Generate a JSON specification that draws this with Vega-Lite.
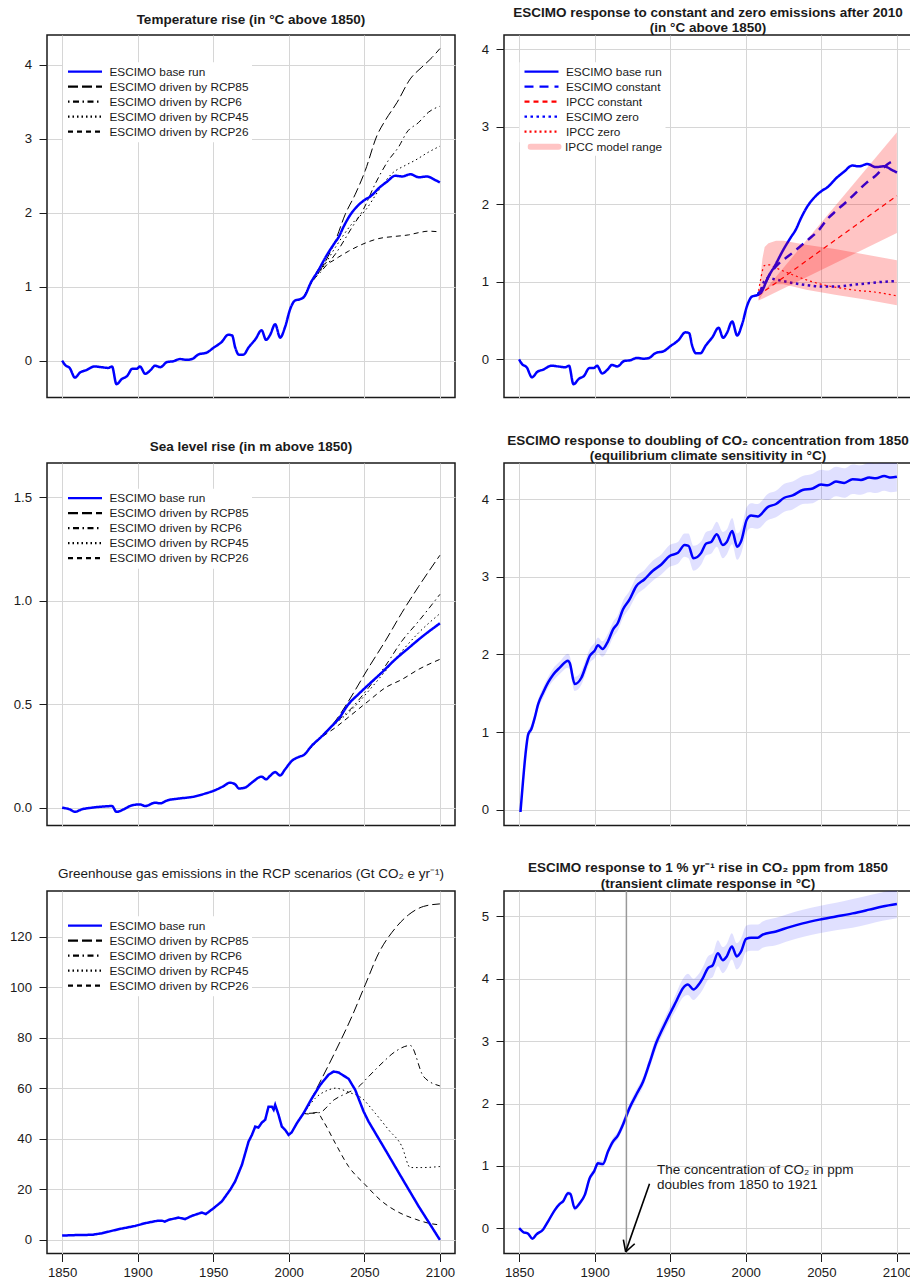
{
"$schema": "https://vega.github.io/schema/vega-lite/v6.json",
"padding": {"left": 8, "top": 5, "right": 0, "bottom": 0},
"background": "white",
"columns": 2,
"spacing": {"row": 65, "column": 49},
"bounds": "flush",
"config": {
  "font": "Liberation Sans",
  "view": {"stroke": "#1a1a1a", "strokeWidth": 1.5},
  "axis": {"domain": false, "grid": true, "gridColor": "#D6D6D6", "gridWidth": 1, "tickColor": "#1a1a1a", "tickSize": 8, "tickWidth": 1, "labelFont": "Liberation Sans", "labelFontSize": 13.2, "labelColor": "#1a1a1a", "labelFlush": false, "labelOverlap": false},
  "axisX": {"labelPadding": 5},
  "axisY": {"labelPadding": 7.5},
  "title": {"font": "Liberation Sans", "fontSize": 13.5, "fontWeight": "bold", "color": "#1a1a1a", "anchor": "middle", "baseline": "bottom", "lineHeight": 15.6},
  "legend": {"orient": "none", "legendX": 16, "legendY": 27.2, "symbolType": "stroke", "symbolSize": 1156, "symbolStrokeWidth": 2.2, "symbolOpacity": 1, "labelFont": "Liberation Sans", "labelFontSize": 11.8, "labelColor": "#1a1a1a", "labelOffset": 6, "labelLimit": 300, "fillColor": "white", "padding": 3.5, "rowPadding": 2, "clipHeight": 12}
},
"resolve": {"scale": {"x": "independent", "y": "independent", "color": "independent", "strokeDash": "independent", "fill": "independent"}, "axis": {"x": "independent", "y": "independent"}, "legend": {"color": "independent", "strokeDash": "independent", "fill": "independent"}},
"datasets": {
"tbase": [
{"s":"ESCIMO base run","year":1850,"v":0},{"s":"ESCIMO base run","year":1852,"v":-0.06},{"s":"ESCIMO base run","year":1855,"v":-0.1},{"s":"ESCIMO base run","year":1858.5,"v":-0.23},{"s":"ESCIMO base run","year":1862,"v":-0.16},{"s":"ESCIMO base run","year":1866,"v":-0.13},{"s":"ESCIMO base run","year":1871.5,"v":-0.08},{"s":"ESCIMO base run","year":1876,"v":-0.09},{"s":"ESCIMO base run","year":1880.5,"v":-0.1},{"s":"ESCIMO base run","year":1883,"v":-0.08},{"s":"ESCIMO base run","year":1886,"v":-0.32},{"s":"ESCIMO base run","year":1889.5,"v":-0.25},{"s":"ESCIMO base run","year":1893,"v":-0.21},{"s":"ESCIMO base run","year":1896.5,"v":-0.11},{"s":"ESCIMO base run","year":1899.5,"v":-0.11},{"s":"ESCIMO base run","year":1901.5,"v":-0.08},{"s":"ESCIMO base run","year":1905,"v":-0.18},{"s":"ESCIMO base run","year":1908.5,"v":-0.13},{"s":"ESCIMO base run","year":1911.5,"v":-0.07},{"s":"ESCIMO base run","year":1915,"v":-0.09},{"s":"ESCIMO base run","year":1919.5,"v":-0.02},{"s":"ESCIMO base run","year":1923.5,"v":-0.01},{"s":"ESCIMO base run","year":1928,"v":0.02},{"s":"ESCIMO base run","year":1932.5,"v":0.01},{"s":"ESCIMO base run","year":1936,"v":0.02},{"s":"ESCIMO base run","year":1940,"v":0.08},{"s":"ESCIMO base run","year":1946,"v":0.11},{"s":"ESCIMO base run","year":1950,"v":0.17},{"s":"ESCIMO base run","year":1955.5,"v":0.25},{"s":"ESCIMO base run","year":1960,"v":0.35},{"s":"ESCIMO base run","year":1962.5,"v":0.34},{"s":"ESCIMO base run","year":1964.5,"v":0.18},{"s":"ESCIMO base run","year":1967,"v":0.08},{"s":"ESCIMO base run","year":1970,"v":0.08},{"s":"ESCIMO base run","year":1973.5,"v":0.18},{"s":"ESCIMO base run","year":1978,"v":0.29},{"s":"ESCIMO base run","year":1982,"v":0.41},{"s":"ESCIMO base run","year":1985,"v":0.28},{"s":"ESCIMO base run","year":1987.5,"v":0.34},{"s":"ESCIMO base run","year":1991,"v":0.49},{"s":"ESCIMO base run","year":1994.3,"v":0.31},{"s":"ESCIMO base run","year":1997.5,"v":0.45},{"s":"ESCIMO base run","year":2001,"v":0.7},{"s":"ESCIMO base run","year":2004,"v":0.81},{"s":"ESCIMO base run","year":2007.5,"v":0.83},{"s":"ESCIMO base run","year":2010,"v":0.86},{"s":"ESCIMO base run","year":2015,"v":1.07},{"s":"ESCIMO base run","year":2019,"v":1.2},{"s":"ESCIMO base run","year":2025,"v":1.42},{"s":"ESCIMO base run","year":2030,"v":1.58},{"s":"ESCIMO base run","year":2033,"v":1.67},{"s":"ESCIMO base run","year":2036.5,"v":1.82},{"s":"ESCIMO base run","year":2041,"v":1.98},{"s":"ESCIMO base run","year":2045,"v":2.08},{"s":"ESCIMO base run","year":2050,"v":2.17},{"s":"ESCIMO base run","year":2054,"v":2.22},{"s":"ESCIMO base run","year":2060,"v":2.34},{"s":"ESCIMO base run","year":2065,"v":2.42},{"s":"ESCIMO base run","year":2070.5,"v":2.5},{"s":"ESCIMO base run","year":2075,"v":2.49},{"s":"ESCIMO base run","year":2080.5,"v":2.52},{"s":"ESCIMO base run","year":2086,"v":2.48},{"s":"ESCIMO base run","year":2091.5,"v":2.49},{"s":"ESCIMO base run","year":2097,"v":2.44},{"s":"ESCIMO base run","year":2100,"v":2.41}
],
"trcp": [
{"s":"ESCIMO driven by RCP85","year":2010,"v":0.86},{"s":"ESCIMO driven by RCP85","year":2015,"v":1.06},{"s":"ESCIMO driven by RCP85","year":2022,"v":1.26},{"s":"ESCIMO driven by RCP85","year":2030.8,"v":1.62},{"s":"ESCIMO driven by RCP85","year":2037.4,"v":1.98},{"s":"ESCIMO driven by RCP85","year":2044,"v":2.25},{"s":"ESCIMO driven by RCP85","year":2050.6,"v":2.57},{"s":"ESCIMO driven by RCP85","year":2058.3,"v":3.04},{"s":"ESCIMO driven by RCP85","year":2063.9,"v":3.25},{"s":"ESCIMO driven by RCP85","year":2071.6,"v":3.49},{"s":"ESCIMO driven by RCP85","year":2080.4,"v":3.81},{"s":"ESCIMO driven by RCP85","year":2088.1,"v":3.97},{"s":"ESCIMO driven by RCP85","year":2094.8,"v":4.1},{"s":"ESCIMO driven by RCP85","year":2100,"v":4.22},
{"s":"ESCIMO driven by RCP6","year":2010,"v":0.86},{"s":"ESCIMO driven by RCP6","year":2015,"v":1.05},{"s":"ESCIMO driven by RCP6","year":2022,"v":1.22},{"s":"ESCIMO driven by RCP6","year":2030.8,"v":1.44},{"s":"ESCIMO driven by RCP6","year":2041.8,"v":1.8},{"s":"ESCIMO driven by RCP6","year":2049.5,"v":2.05},{"s":"ESCIMO driven by RCP6","year":2057.2,"v":2.39},{"s":"ESCIMO driven by RCP6","year":2066,"v":2.71},{"s":"ESCIMO driven by RCP6","year":2072.7,"v":2.89},{"s":"ESCIMO driven by RCP6","year":2078.2,"v":3.09},{"s":"ESCIMO driven by RCP6","year":2085.9,"v":3.22},{"s":"ESCIMO driven by RCP6","year":2092.5,"v":3.36},{"s":"ESCIMO driven by RCP6","year":2100,"v":3.44},
{"s":"ESCIMO driven by RCP45","year":2010,"v":0.86},{"s":"ESCIMO driven by RCP45","year":2015,"v":1.06},{"s":"ESCIMO driven by RCP45","year":2022,"v":1.24},{"s":"ESCIMO driven by RCP45","year":2030.8,"v":1.53},{"s":"ESCIMO driven by RCP45","year":2041.8,"v":1.85},{"s":"ESCIMO driven by RCP45","year":2050.6,"v":2.03},{"s":"ESCIMO driven by RCP45","year":2059.5,"v":2.3},{"s":"ESCIMO driven by RCP45","year":2068.3,"v":2.53},{"s":"ESCIMO driven by RCP45","year":2077.1,"v":2.64},{"s":"ESCIMO driven by RCP45","year":2083.7,"v":2.71},{"s":"ESCIMO driven by RCP45","year":2092.5,"v":2.82},{"s":"ESCIMO driven by RCP45","year":2100,"v":2.9},
{"s":"ESCIMO driven by RCP26","year":2010,"v":0.86},{"s":"ESCIMO driven by RCP26","year":2015,"v":1.07},{"s":"ESCIMO driven by RCP26","year":2022,"v":1.29},{"s":"ESCIMO driven by RCP26","year":2027.5,"v":1.33},{"s":"ESCIMO driven by RCP26","year":2033,"v":1.4},{"s":"ESCIMO driven by RCP26","year":2039.6,"v":1.48},{"s":"ESCIMO driven by RCP26","year":2048.4,"v":1.57},{"s":"ESCIMO driven by RCP26","year":2059.5,"v":1.65},{"s":"ESCIMO driven by RCP26","year":2070.5,"v":1.68},{"s":"ESCIMO driven by RCP26","year":2079.3,"v":1.7},{"s":"ESCIMO driven by RCP26","year":2085.9,"v":1.73},{"s":"ESCIMO driven by RCP26","year":2092.5,"v":1.75},{"s":"ESCIMO driven by RCP26","year":2100,"v":1.74}
],
"escen": [
{"s":"ESCIMO constant","year":2008,"v":0.84},{"s":"ESCIMO constant","year":2012,"v":0.95},{"s":"ESCIMO constant","year":2016,"v":1.1},{"s":"ESCIMO constant","year":2022,"v":1.24},{"s":"ESCIMO constant","year":2028,"v":1.33},{"s":"ESCIMO constant","year":2035,"v":1.44},{"s":"ESCIMO constant","year":2041,"v":1.54},{"s":"ESCIMO constant","year":2048,"v":1.66},{"s":"ESCIMO constant","year":2054,"v":1.81},{"s":"ESCIMO constant","year":2060,"v":1.92},{"s":"ESCIMO constant","year":2067,"v":2.04},{"s":"ESCIMO constant","year":2074,"v":2.17},{"s":"ESCIMO constant","year":2080,"v":2.28},{"s":"ESCIMO constant","year":2086,"v":2.37},{"s":"ESCIMO constant","year":2090,"v":2.45},{"s":"ESCIMO constant","year":2094,"v":2.52},{"s":"ESCIMO constant","year":2099,"v":2.57},
{"s":"ESCIMO zero","year":2008,"v":0.84},{"s":"ESCIMO zero","year":2010,"v":0.9},{"s":"ESCIMO zero","year":2012,"v":1.0},{"s":"ESCIMO zero","year":2015,"v":1.05},{"s":"ESCIMO zero","year":2020,"v":1.03},{"s":"ESCIMO zero","year":2030,"v":0.99},{"s":"ESCIMO zero","year":2040,"v":0.96},{"s":"ESCIMO zero","year":2050,"v":0.94},{"s":"ESCIMO zero","year":2060,"v":0.94},{"s":"ESCIMO zero","year":2070,"v":0.96},{"s":"ESCIMO zero","year":2080,"v":0.98},{"s":"ESCIMO zero","year":2090,"v":1.0},{"s":"ESCIMO zero","year":2100,"v":1.01}
],
"iscen": [
{"s":"IPCC constant","year":2008,"v":0.82},{"s":"IPCC constant","year":2050,"v":1.41},{"s":"IPCC constant","year":2100,"v":2.11},
{"s":"IPCC zero","year":2008,"v":0.82},{"s":"IPCC zero","year":2010,"v":1.05},{"s":"IPCC zero","year":2012.3,"v":1.21},{"s":"IPCC zero","year":2016,"v":1.22},{"s":"IPCC zero","year":2019,"v":1.19},{"s":"IPCC zero","year":2030,"v":1.1},{"s":"IPCC zero","year":2041,"v":1.02},{"s":"IPCC zero","year":2052,"v":0.96},{"s":"IPCC zero","year":2063,"v":0.92},{"s":"IPCC zero","year":2074,"v":0.89},{"s":"IPCC zero","year":2085,"v":0.87},{"s":"IPCC zero","year":2100,"v":0.82}
],
"tband": [
{"band":"constant","year":2008.5,"lo":0.76,"hi":0.8},{"band":"constant","year":2100,"lo":1.63,"hi":2.93},
{"band":"zero","year":2008.5,"lo":0.76,"hi":0.8},{"band":"zero","year":2009.5,"lo":0.79,"hi":1.02},{"band":"zero","year":2011,"lo":0.84,"hi":1.3},{"band":"zero","year":2012.5,"lo":0.88,"hi":1.45},{"band":"zero","year":2015,"lo":0.93,"hi":1.5},{"band":"zero","year":2020,"lo":0.97,"hi":1.53},{"band":"zero","year":2025,"lo":0.97,"hi":1.53},{"band":"zero","year":2040,"lo":0.9,"hi":1.48},{"band":"zero","year":2060,"lo":0.83,"hi":1.42},{"band":"zero","year":2080,"lo":0.77,"hi":1.35},{"band":"zero","year":2100,"lo":0.7,"hi":1.28}
],
"slbase": [
{"s":"ESCIMO base run","year":1850,"v":0},{"s":"ESCIMO base run","year":1855,"v":-0.008},{"s":"ESCIMO base run","year":1858.5,"v":-0.02},{"s":"ESCIMO base run","year":1863,"v":-0.008},{"s":"ESCIMO base run","year":1869.5,"v":0},{"s":"ESCIMO base run","year":1876,"v":0.005},{"s":"ESCIMO base run","year":1883,"v":0.008},{"s":"ESCIMO base run","year":1886,"v":-0.02},{"s":"ESCIMO base run","year":1891.5,"v":-0.005},{"s":"ESCIMO base run","year":1896,"v":0.011},{"s":"ESCIMO base run","year":1901.5,"v":0.016},{"s":"ESCIMO base run","year":1905,"v":0.008},{"s":"ESCIMO base run","year":1911.5,"v":0.024},{"s":"ESCIMO base run","year":1915,"v":0.021},{"s":"ESCIMO base run","year":1919.5,"v":0.035},{"s":"ESCIMO base run","year":1927,"v":0.044},{"s":"ESCIMO base run","year":1936,"v":0.052},{"s":"ESCIMO base run","year":1944.5,"v":0.068},{"s":"ESCIMO base run","year":1951,"v":0.084},{"s":"ESCIMO base run","year":1957,"v":0.105},{"s":"ESCIMO base run","year":1961,"v":0.121},{"s":"ESCIMO base run","year":1964.5,"v":0.113},{"s":"ESCIMO base run","year":1967,"v":0.093},{"s":"ESCIMO base run","year":1971,"v":0.097},{"s":"ESCIMO base run","year":1975.5,"v":0.121},{"s":"ESCIMO base run","year":1982,"v":0.15},{"s":"ESCIMO base run","year":1985,"v":0.137},{"s":"ESCIMO base run","year":1987.5,"v":0.153},{"s":"ESCIMO base run","year":1991,"v":0.172},{"s":"ESCIMO base run","year":1994.3,"v":0.156},{"s":"ESCIMO base run","year":1997.5,"v":0.185},{"s":"ESCIMO base run","year":2002,"v":0.226},{"s":"ESCIMO base run","year":2006.5,"v":0.245},{"s":"ESCIMO base run","year":2010,"v":0.255},{"s":"ESCIMO base run","year":2015,"v":0.298},{"s":"ESCIMO base run","year":2022,"v":0.346},{"s":"ESCIMO base run","year":2027.5,"v":0.387},{"s":"ESCIMO base run","year":2033,"v":0.43},{"s":"ESCIMO base run","year":2039.5,"v":0.5},{"s":"ESCIMO base run","year":2046,"v":0.548},{"s":"ESCIMO base run","year":2053,"v":0.596},{"s":"ESCIMO base run","year":2061.5,"v":0.653},{"s":"ESCIMO base run","year":2070.5,"v":0.717},{"s":"ESCIMO base run","year":2079.5,"v":0.773},{"s":"ESCIMO base run","year":2088,"v":0.825},{"s":"ESCIMO base run","year":2100,"v":0.891}
],
"slrcp": [
{"s":"ESCIMO driven by RCP85","year":2010,"v":0.255},{"s":"ESCIMO driven by RCP85","year":2020,"v":0.335},{"s":"ESCIMO driven by RCP85","year":2030.8,"v":0.419},{"s":"ESCIMO driven by RCP85","year":2039.6,"v":0.516},{"s":"ESCIMO driven by RCP85","year":2052.8,"v":0.677},{"s":"ESCIMO driven by RCP85","year":2063.9,"v":0.806},{"s":"ESCIMO driven by RCP85","year":2074.9,"v":0.943},{"s":"ESCIMO driven by RCP85","year":2086,"v":1.07},{"s":"ESCIMO driven by RCP85","year":2100,"v":1.22},
{"s":"ESCIMO driven by RCP6","year":2010,"v":0.255},{"s":"ESCIMO driven by RCP6","year":2020,"v":0.33},{"s":"ESCIMO driven by RCP6","year":2030,"v":0.405},{"s":"ESCIMO driven by RCP6","year":2041.8,"v":0.483},{"s":"ESCIMO driven by RCP6","year":2052.8,"v":0.58},{"s":"ESCIMO driven by RCP6","year":2063.9,"v":0.685},{"s":"ESCIMO driven by RCP6","year":2074.9,"v":0.806},{"s":"ESCIMO driven by RCP6","year":2086,"v":0.902},{"s":"ESCIMO driven by RCP6","year":2100,"v":1.031},
{"s":"ESCIMO driven by RCP45","year":2010,"v":0.255},{"s":"ESCIMO driven by RCP45","year":2020,"v":0.33},{"s":"ESCIMO driven by RCP45","year":2030,"v":0.4},{"s":"ESCIMO driven by RCP45","year":2041.8,"v":0.475},{"s":"ESCIMO driven by RCP45","year":2052.8,"v":0.564},{"s":"ESCIMO driven by RCP45","year":2063.9,"v":0.66},{"s":"ESCIMO driven by RCP45","year":2074.9,"v":0.757},{"s":"ESCIMO driven by RCP45","year":2086,"v":0.846},{"s":"ESCIMO driven by RCP45","year":2100,"v":0.938},
{"s":"ESCIMO driven by RCP26","year":2010,"v":0.255},{"s":"ESCIMO driven by RCP26","year":2020,"v":0.33},{"s":"ESCIMO driven by RCP26","year":2030.8,"v":0.387},{"s":"ESCIMO driven by RCP26","year":2041.8,"v":0.451},{"s":"ESCIMO driven by RCP26","year":2052.8,"v":0.516},{"s":"ESCIMO driven by RCP26","year":2063.9,"v":0.58},{"s":"ESCIMO driven by RCP26","year":2074.9,"v":0.62},{"s":"ESCIMO driven by RCP26","year":2086,"v":0.669},{"s":"ESCIMO driven by RCP26","year":2100,"v":0.717}
],
"ecs": [
{"year":1850.9,"v":-0.03,"lo":-0.04,"hi":-0.02},{"year":1852.6,"v":0.37,"lo":0.34,"hi":0.4},{"year":1854.2,"v":0.71,"lo":0.67,"hi":0.75},{"year":1856,"v":0.97,"lo":0.92,"hi":1.02},{"year":1858.1,"v":1.04,"lo":0.99,"hi":1.09},{"year":1860.4,"v":1.19,"lo":1.13,"hi":1.25},{"year":1862.6,"v":1.36,"lo":1.3,"hi":1.42},{"year":1865.9,"v":1.51,"lo":1.44,"hi":1.58},{"year":1869.2,"v":1.64,"lo":1.57,"hi":1.71},{"year":1872.5,"v":1.74,"lo":1.66,"hi":1.82},{"year":1876.9,"v":1.83,"lo":1.75,"hi":1.91},{"year":1882.4,"v":1.92,"lo":1.83,"hi":2.01},{"year":1883.5,"v":1.89,"lo":1.8,"hi":1.98},{"year":1886.8,"v":1.62,"lo":1.53,"hi":1.71},{"year":1891.2,"v":1.7,"lo":1.61,"hi":1.79},{"year":1894.5,"v":1.87,"lo":1.78,"hi":1.96},{"year":1896.7,"v":1.98,"lo":1.89,"hi":2.07},{"year":1900,"v":2.05,"lo":1.95,"hi":2.15},{"year":1902.2,"v":2.12,"lo":2.02,"hi":2.22},{"year":1905.1,"v":2.07,"lo":1.97,"hi":2.17},{"year":1908.8,"v":2.17,"lo":2.07,"hi":2.27},{"year":1912.1,"v":2.32,"lo":2.22,"hi":2.42},{"year":1915.4,"v":2.41,"lo":2.31,"hi":2.51},{"year":1918.7,"v":2.58,"lo":2.47,"hi":2.69},{"year":1923.1,"v":2.71,"lo":2.6,"hi":2.82},{"year":1927.5,"v":2.88,"lo":2.76,"hi":3.0},{"year":1933,"v":2.97,"lo":2.85,"hi":3.09},{"year":1938.5,"v":3.08,"lo":2.95,"hi":3.21},{"year":1944.1,"v":3.16,"lo":3.03,"hi":3.29},{"year":1949.6,"v":3.27,"lo":3.13,"hi":3.41},{"year":1955.1,"v":3.31,"lo":3.17,"hi":3.45},{"year":1959.5,"v":3.41,"lo":3.26,"hi":3.56},{"year":1962.1,"v":3.4,"lo":3.24,"hi":3.56},{"year":1965.4,"v":3.24,"lo":3.08,"hi":3.4},{"year":1970.5,"v":3.31,"lo":3.16,"hi":3.46},{"year":1973.8,"v":3.43,"lo":3.28,"hi":3.58},{"year":1977.1,"v":3.45,"lo":3.3,"hi":3.6},{"year":1980.8,"v":3.55,"lo":3.39,"hi":3.71},{"year":1984.8,"v":3.41,"lo":3.24,"hi":3.58},{"year":1987.4,"v":3.45,"lo":3.29,"hi":3.61},{"year":1991,"v":3.59,"lo":3.42,"hi":3.76},{"year":1994.3,"v":3.39,"lo":3.22,"hi":3.56},{"year":1996.9,"v":3.46,"lo":3.3,"hi":3.62},{"year":2000.7,"v":3.74,"lo":3.58,"hi":3.9},{"year":2003.5,"v":3.79,"lo":3.63,"hi":3.95},{"year":2007.9,"v":3.78,"lo":3.62,"hi":3.94},{"year":2014.5,"v":3.9,"lo":3.73,"hi":4.07},{"year":2020,"v":3.94,"lo":3.77,"hi":4.11},{"year":2025.5,"v":4.02,"lo":3.84,"hi":4.2},{"year":2031,"v":4.05,"lo":3.87,"hi":4.23},{"year":2037.6,"v":4.12,"lo":3.94,"hi":4.3},{"year":2044.3,"v":4.14,"lo":3.95,"hi":4.33},{"year":2049.8,"v":4.19,"lo":4.0,"hi":4.38},{"year":2054.2,"v":4.18,"lo":3.99,"hi":4.37},{"year":2059.7,"v":4.23,"lo":4.04,"hi":4.42},{"year":2065.2,"v":4.21,"lo":4.02,"hi":4.4},{"year":2070.7,"v":4.26,"lo":4.07,"hi":4.45},{"year":2076.2,"v":4.25,"lo":4.06,"hi":4.44},{"year":2081.7,"v":4.28,"lo":4.09,"hi":4.47},{"year":2086.1,"v":4.27,"lo":4.08,"hi":4.46},{"year":2091.6,"v":4.3,"lo":4.11,"hi":4.49},{"year":2096,"v":4.28,"lo":4.09,"hi":4.47},{"year":2100,"v":4.29,"lo":4.1,"hi":4.48}
],
"gbase": [
{"s":"ESCIMO base run","year":1850,"v":1.7},{"s":"ESCIMO base run","year":1860,"v":1.9},{"s":"ESCIMO base run","year":1870,"v":2.0},{"s":"ESCIMO base run","year":1876.3,"v":2.6},{"s":"ESCIMO base run","year":1887.3,"v":4.2},{"s":"ESCIMO base run","year":1898.3,"v":5.5},{"s":"ESCIMO base run","year":1905,"v":6.6},{"s":"ESCIMO base run","year":1912.7,"v":7.5},{"s":"ESCIMO base run","year":1916,"v":7.6},{"s":"ESCIMO base run","year":1918,"v":7.2},{"s":"ESCIMO base run","year":1920.4,"v":7.9},{"s":"ESCIMO base run","year":1927,"v":8.8},{"s":"ESCIMO base run","year":1931.4,"v":8.2},{"s":"ESCIMO base run","year":1935.9,"v":9.5},{"s":"ESCIMO base run","year":1942.5,"v":10.8},{"s":"ESCIMO base run","year":1945.1,"v":10.2},{"s":"ESCIMO base run","year":1950.2,"v":12.5},{"s":"ESCIMO base run","year":1955.7,"v":15.2},{"s":"ESCIMO base run","year":1961.2,"v":19.8},{"s":"ESCIMO base run","year":1964.5,"v":23.1},{"s":"ESCIMO base run","year":1969,"v":29.7},{"s":"ESCIMO base run","year":1973.4,"v":38.9},{"s":"ESCIMO base run","year":1975.6,"v":41.5},{"s":"ESCIMO base run","year":1977.8,"v":44.8},{"s":"ESCIMO base run","year":1979.9,"v":44.4},{"s":"ESCIMO base run","year":1982.2,"v":46.4},{"s":"ESCIMO base run","year":1984.4,"v":47.5},{"s":"ESCIMO base run","year":1986.6,"v":52.7},{"s":"ESCIMO base run","year":1988.8,"v":52.7},{"s":"ESCIMO base run","year":1990,"v":51.5},{"s":"ESCIMO base run","year":1991,"v":53.4},{"s":"ESCIMO base run","year":1993.2,"v":49.5},{"s":"ESCIMO base run","year":1995.4,"v":44.8},{"s":"ESCIMO base run","year":1997.6,"v":43.5},{"s":"ESCIMO base run","year":1999.9,"v":41.5},{"s":"ESCIMO base run","year":2002,"v":42.6},{"s":"ESCIMO base run","year":2005.4,"v":46.2},{"s":"ESCIMO base run","year":2009.8,"v":50.1},{"s":"ESCIMO base run","year":2015.3,"v":56.0},{"s":"ESCIMO base run","year":2020.8,"v":61.3},{"s":"ESCIMO base run","year":2026.3,"v":65.3},{"s":"ESCIMO base run","year":2029.7,"v":66.6},{"s":"ESCIMO base run","year":2033,"v":66.2},{"s":"ESCIMO base run","year":2039.6,"v":63.7},{"s":"ESCIMO base run","year":2044,"v":59.3},{"s":"ESCIMO base run","year":2049.5,"v":50.8},{"s":"ESCIMO base run","year":2052.8,"v":46.8},{"s":"ESCIMO base run","year":2063.9,"v":35.6},{"s":"ESCIMO base run","year":2074.9,"v":24.4},{"s":"ESCIMO base run","year":2086,"v":13.2},{"s":"ESCIMO base run","year":2100,"v":0.0}
],
"grcp": [
{"s":"ESCIMO driven by RCP85","year":2010,"v":50},{"s":"ESCIMO driven by RCP85","year":2019.7,"v":61.3},{"s":"ESCIMO driven by RCP85","year":2030.8,"v":74.5},{"s":"ESCIMO driven by RCP85","year":2041.8,"v":88.4},{"s":"ESCIMO driven by RCP85","year":2050.6,"v":100.9},{"s":"ESCIMO driven by RCP85","year":2059.5,"v":113.4},{"s":"ESCIMO driven by RCP85","year":2070.5,"v":123.3},{"s":"ESCIMO driven by RCP85","year":2079.3,"v":128.6},{"s":"ESCIMO driven by RCP85","year":2089.2,"v":131.9},{"s":"ESCIMO driven by RCP85","year":2100,"v":132.9},
{"s":"ESCIMO driven by RCP6","year":2010,"v":50},{"s":"ESCIMO driven by RCP6","year":2020,"v":50.3},{"s":"ESCIMO driven by RCP6","year":2030,"v":55.4},{"s":"ESCIMO driven by RCP6","year":2040,"v":58.5},{"s":"ESCIMO driven by RCP6","year":2045,"v":60.0},{"s":"ESCIMO driven by RCP6","year":2052.8,"v":64.6},{"s":"ESCIMO driven by RCP6","year":2061.7,"v":69.9},{"s":"ESCIMO driven by RCP6","year":2070.5,"v":74.5},{"s":"ESCIMO driven by RCP6","year":2080.4,"v":76.9},{"s":"ESCIMO driven by RCP6","year":2089.2,"v":64.6},{"s":"ESCIMO driven by RCP6","year":2100,"v":60.9},
{"s":"ESCIMO driven by RCP45","year":2010,"v":50},{"s":"ESCIMO driven by RCP45","year":2017.5,"v":56.0},{"s":"ESCIMO driven by RCP45","year":2026.3,"v":59.3},{"s":"ESCIMO driven by RCP45","year":2030.8,"v":60.0},{"s":"ESCIMO driven by RCP45","year":2039.6,"v":58.4},{"s":"ESCIMO driven by RCP45","year":2048.4,"v":56.0},{"s":"ESCIMO driven by RCP45","year":2057.2,"v":50.1},{"s":"ESCIMO driven by RCP45","year":2066.1,"v":43.5},{"s":"ESCIMO driven by RCP45","year":2074.9,"v":36.9},{"s":"ESCIMO driven by RCP45","year":2080.4,"v":28.6},{"s":"ESCIMO driven by RCP45","year":2088.1,"v":28.6},{"s":"ESCIMO driven by RCP45","year":2100,"v":29.0},
{"s":"ESCIMO driven by RCP26","year":2010,"v":50},{"s":"ESCIMO driven by RCP26","year":2013.1,"v":49.8},{"s":"ESCIMO driven by RCP26","year":2018.6,"v":50.4},{"s":"ESCIMO driven by RCP26","year":2023,"v":46.8},{"s":"ESCIMO driven by RCP26","year":2030.8,"v":38.2},{"s":"ESCIMO driven by RCP26","year":2039.6,"v":29.0},{"s":"ESCIMO driven by RCP26","year":2050.6,"v":21.8},{"s":"ESCIMO driven by RCP26","year":2061.7,"v":15.2},{"s":"ESCIMO driven by RCP26","year":2072.7,"v":10.9},{"s":"ESCIMO driven by RCP26","year":2083.7,"v":8.2},{"s":"ESCIMO driven by RCP26","year":2092.5,"v":6.6},{"s":"ESCIMO driven by RCP26","year":2100,"v":5.9}
],
"tcr": [
{"year":1850,"v":0.0,"lo":-0.01,"hi":0.01},{"year":1852.6,"v":-0.06,"lo":-0.07,"hi":-0.05},{"year":1856,"v":-0.09,"lo":-0.11,"hi":-0.07},{"year":1858.8,"v":-0.17,"lo":-0.19,"hi":-0.15},{"year":1861.5,"v":-0.1,"lo":-0.12,"hi":-0.08},{"year":1865.9,"v":-0.02,"lo":-0.04,"hi":0.0},{"year":1869.2,"v":0.11,"lo":0.08,"hi":0.14},{"year":1873.6,"v":0.29,"lo":0.26,"hi":0.32},{"year":1876.9,"v":0.39,"lo":0.36,"hi":0.42},{"year":1879.1,"v":0.43,"lo":0.4,"hi":0.46},{"year":1882.4,"v":0.56,"lo":0.52,"hi":0.6},{"year":1883.9,"v":0.55,"lo":0.51,"hi":0.59},{"year":1886.8,"v":0.32,"lo":0.28,"hi":0.36},{"year":1890.1,"v":0.4,"lo":0.36,"hi":0.44},{"year":1893.4,"v":0.53,"lo":0.49,"hi":0.57},{"year":1896.7,"v":0.8,"lo":0.75,"hi":0.85},{"year":1899.6,"v":0.91,"lo":0.86,"hi":0.96},{"year":1902.2,"v":1.04,"lo":0.99,"hi":1.09},{"year":1905.5,"v":1.03,"lo":0.98,"hi":1.08},{"year":1908.8,"v":1.23,"lo":1.17,"hi":1.29},{"year":1912.1,"v":1.39,"lo":1.33,"hi":1.45},{"year":1915.4,"v":1.49,"lo":1.43,"hi":1.55},{"year":1918.7,"v":1.66,"lo":1.59,"hi":1.73},{"year":1923.1,"v":1.93,"lo":1.86,"hi":2.0},{"year":1927.5,"v":2.14,"lo":2.06,"hi":2.22},{"year":1932,"v":2.35,"lo":2.27,"hi":2.43},{"year":1936.3,"v":2.65,"lo":2.56,"hi":2.74},{"year":1940.7,"v":2.97,"lo":2.87,"hi":3.07},{"year":1945.2,"v":3.21,"lo":3.11,"hi":3.31},{"year":1949.6,"v":3.43,"lo":3.32,"hi":3.54},{"year":1954,"v":3.64,"lo":3.51,"hi":3.77},{"year":1958.4,"v":3.85,"lo":3.7,"hi":4.0},{"year":1961.7,"v":3.91,"lo":3.74,"hi":4.08},{"year":1965.4,"v":3.83,"lo":3.66,"hi":4.0},{"year":1968.3,"v":3.89,"lo":3.72,"hi":4.06},{"year":1971.6,"v":4.01,"lo":3.83,"hi":4.19},{"year":1974.9,"v":4.17,"lo":3.98,"hi":4.36},{"year":1978.2,"v":4.22,"lo":4.03,"hi":4.41},{"year":1981.5,"v":4.41,"lo":4.2,"hi":4.62},{"year":1984.8,"v":4.3,"lo":4.09,"hi":4.51},{"year":1987.4,"v":4.36,"lo":4.16,"hi":4.56},{"year":1990.8,"v":4.52,"lo":4.31,"hi":4.73},{"year":1994,"v":4.36,"lo":4.15,"hi":4.57},{"year":1996.9,"v":4.44,"lo":4.23,"hi":4.65},{"year":2000.2,"v":4.64,"lo":4.43,"hi":4.85},{"year":2003.5,"v":4.66,"lo":4.45,"hi":4.87},{"year":2007.9,"v":4.66,"lo":4.45,"hi":4.87},{"year":2011.2,"v":4.71,"lo":4.5,"hi":4.92},{"year":2020,"v":4.76,"lo":4.54,"hi":4.98},{"year":2028.9,"v":4.83,"lo":4.61,"hi":5.05},{"year":2037.7,"v":4.89,"lo":4.67,"hi":5.11},{"year":2048.7,"v":4.95,"lo":4.73,"hi":5.17},{"year":2059.7,"v":5.0,"lo":4.78,"hi":5.22},{"year":2070.7,"v":5.05,"lo":4.82,"hi":5.28},{"year":2081.7,"v":5.11,"lo":4.88,"hi":5.34},{"year":2090.5,"v":5.16,"lo":4.93,"hi":5.39},{"year":2100,"v":5.2,"lo":4.97,"hi":5.43}
],
"arrow": [
{"x1":1936.3,"y1":0.712,"x2":1920.5,"y2":-0.38},{"x1":1920.5,"y1":-0.38,"x2":1926.5,"y2":-0.25},{"x1":1920.5,"y1":-0.38,"x2":1919.0,"y2":-0.185}
],
"note": [
{"year":1941.2,"v":0.936,"label":"The concentration of CO₂ in ppm"},{"year":1941.2,"v":0.685,"label":"doubles from 1850 to 1921"}
],
"mark1921": [{"year":1921}]
},
"concat": [
{
 "width": 408, "height": 362.5,
 "title": {"text": "Temperature rise (in °C above 1850)", "offset": 9},
 "layer": [
  {"data": {"name": "trcp"}, "mark": {"type": "line", "strokeWidth": 1, "interpolate": "monotone", "clip": true},
   "encoding": {
    "x": {"field": "year", "type": "quantitative", "scale": {"domain": [1840, 2110], "nice": false, "zero": false}, "axis": {"values": [1850,1900,1950,2000,2050,2100], "labels": false, "ticks": false, "title": null}},
    "y": {"field": "v", "type": "quantitative", "scale": {"domain": [-0.5, 4.404], "nice": false, "zero": false}, "axis": {"values": [0,1,2,3,4], "format": "d", "title": null}},
    "color": {"field": "s", "type": "nominal", "scale": {"domain": ["ESCIMO base run","ESCIMO driven by RCP85","ESCIMO driven by RCP6","ESCIMO driven by RCP45","ESCIMO driven by RCP26"], "range": ["#0000FF","#000000","#000000","#000000","#000000"]}, "legend": {"title": null, "legendY": 27.2}},
    "strokeDash": {"field": "s", "type": "nominal", "scale": {"domain": ["ESCIMO base run","ESCIMO driven by RCP85","ESCIMO driven by RCP6","ESCIMO driven by RCP45","ESCIMO driven by RCP26"], "range": [[1,0],[10,4],[1.5,3.5,6,3.5],[1.5,3],[5,4]]}, "legend": {"title": null, "legendY": 27.2}}
   }},
  {"data": {"name": "tbase"}, "mark": {"type": "line", "strokeWidth": 2.5, "interpolate": "monotone", "clip": true},
   "encoding": {
    "x": {"field": "year", "type": "quantitative"},
    "y": {"field": "v", "type": "quantitative"},
    "color": {"field": "s", "type": "nominal"},
    "strokeDash": {"field": "s", "type": "nominal"}
   }}
 ]
},
{
 "width": 408, "height": 362.5,
 "title": {"text": ["ESCIMO response to constant and zero emissions after 2010", "(in °C above 1850)"], "offset": 0},
 "layer": [
  {"data": {"name": "escen"}, "mark": {"type": "line", "strokeWidth": 2.5, "interpolate": "monotone", "clip": true},
   "encoding": {
    "x": {"field": "year", "type": "quantitative", "scale": {"domain": [1840, 2110], "nice": false, "zero": false}, "axis": {"values": [1850,1900,1950,2000,2050,2100], "labels": false, "ticks": false, "title": null}},
    "y": {"field": "v", "type": "quantitative", "scale": {"domain": [-0.49, 4.183], "nice": false, "zero": false}, "axis": {"values": [0,1,2,3,4], "format": "d", "title": null}},
    "color": {"field": "s", "type": "nominal", "scale": {"domain": ["ESCIMO base run","ESCIMO constant","IPCC constant","ESCIMO zero","IPCC zero"], "range": ["#0000FF","#0000FF","#FF0000","#0000FF","#FF0000"]}, "legend": {"title": null, "legendX": 15.5, "legendY": 27.2}},
    "strokeDash": {"field": "s", "type": "nominal", "scale": {"domain": ["ESCIMO base run","ESCIMO constant","IPCC constant","ESCIMO zero","IPCC zero"], "range": [[1,0],[9,6],[5,4],[2.5,3.5],[2,3]]}, "legend": {"title": null, "legendX": 15.5, "legendY": 27.2}}
   }},
  {"data": {"name": "iscen"}, "mark": {"type": "line", "strokeWidth": 1.2, "interpolate": "monotone", "clip": true},
   "encoding": {
    "x": {"field": "year", "type": "quantitative"},
    "y": {"field": "v", "type": "quantitative"},
    "color": {"field": "s", "type": "nominal"},
    "strokeDash": {"field": "s", "type": "nominal"}
   }},
  {"data": {"name": "tbase"}, "mark": {"type": "line", "strokeWidth": 2.5, "interpolate": "monotone", "clip": true},
   "encoding": {
    "x": {"field": "year", "type": "quantitative"},
    "y": {"field": "v", "type": "quantitative"},
    "color": {"field": "s", "type": "nominal"},
    "strokeDash": {"field": "s", "type": "nominal"}
   }},
  {"data": {"name": "tband"}, "mark": {"type": "area", "opacity": 0.23, "clip": true},
   "encoding": {
    "x": {"field": "year", "type": "quantitative"},
    "y": {"field": "lo", "type": "quantitative"},
    "y2": {"field": "hi"},
    "detail": {"field": "band"},
    "fill": {"datum": "IPCC model range", "type": "nominal", "scale": {"range": ["#FF0000"]},
      "legend": {"title": null, "legendX": 21.5, "legendY": 103.7, "padding": 2, "symbolSize": 784, "symbolStrokeWidth": 6, "labelOffset": 3.5, "symbolStrokeColor": "#FFC4C4", "symbolFillColor": "transparent",
        "encode": {"symbols": {"update": {"stroke": {"value": "#FFC4C4"}, "fill": {"value": "transparent"}, "strokeCap": {"value": "round"}, "opacity": {"value": 1}, "strokeWidth": {"value": 6}}}}}}
   }}
 ]
},
{
 "width": 408, "height": 362.5,
 "title": {"text": "Sea level rise (in m above 1850)", "offset": 10},
 "layer": [
  {"data": {"name": "slrcp"}, "mark": {"type": "line", "strokeWidth": 1, "interpolate": "monotone", "clip": true},
   "encoding": {
    "x": {"field": "year", "type": "quantitative", "scale": {"domain": [1840, 2110], "nice": false, "zero": false}, "axis": {"values": [1850,1900,1950,2000,2050,2100], "labels": false, "ticks": false, "title": null}},
    "y": {"field": "v", "type": "quantitative", "scale": {"domain": [-0.086, 1.666], "nice": false, "zero": false}, "axis": {"values": [0,0.5,1,1.5], "format": ".1f", "title": null}},
    "color": {"field": "s", "type": "nominal", "scale": {"domain": ["ESCIMO base run","ESCIMO driven by RCP85","ESCIMO driven by RCP6","ESCIMO driven by RCP45","ESCIMO driven by RCP26"], "range": ["#0000FF","#000000","#000000","#000000","#000000"]}, "legend": {"title": null, "legendY": 25.7}},
    "strokeDash": {"field": "s", "type": "nominal", "scale": {"domain": ["ESCIMO base run","ESCIMO driven by RCP85","ESCIMO driven by RCP6","ESCIMO driven by RCP45","ESCIMO driven by RCP26"], "range": [[1,0],[10,4],[1.5,3.5,6,3.5],[1.5,3],[5,4]]}, "legend": {"title": null, "legendY": 25.7}}
   }},
  {"data": {"name": "slbase"}, "mark": {"type": "line", "strokeWidth": 2.5, "interpolate": "monotone", "clip": true},
   "encoding": {
    "x": {"field": "year", "type": "quantitative"},
    "y": {"field": "v", "type": "quantitative"},
    "color": {"field": "s", "type": "nominal"},
    "strokeDash": {"field": "s", "type": "nominal"}
   }}
 ]
},
{
 "width": 408, "height": 362.5,
 "title": {"text": ["ESCIMO response to doubling of CO₂ concentration from 1850", "(equilibrium climate sensitivity in °C)"], "offset": 0},
 "data": {"name": "ecs"},
 "layer": [
  {"mark": {"type": "area", "color": "#0000FF", "opacity": 0.12, "clip": true, "interpolate": "monotone"},
   "encoding": {
    "x": {"field": "year", "type": "quantitative", "scale": {"domain": [1840, 2110], "nice": false, "zero": false}, "axis": {"values": [1850,1900,1950,2000,2050,2100], "labels": false, "ticks": false, "title": null}},
    "y": {"field": "lo", "type": "quantitative", "scale": {"domain": [-0.204, 4.468], "nice": false, "zero": false}, "axis": {"values": [0,1,2,3,4], "format": "d", "title": null}},
    "y2": {"field": "hi"}
   }},
  {"mark": {"type": "line", "color": "#0000FF", "strokeWidth": 2.5, "interpolate": "monotone", "clip": true},
   "encoding": {
    "x": {"field": "year", "type": "quantitative"},
    "y": {"field": "v", "type": "quantitative"}
   }}
 ]
},
{
 "width": 408, "height": 362.5,
 "title": {"text": "Greenhouse gas emissions in the RCP scenarios (Gt CO₂ e yr⁻¹)", "offset": 11, "fontWeight": "normal"},
 "layer": [
  {"data": {"name": "grcp"}, "mark": {"type": "line", "strokeWidth": 1, "interpolate": "monotone", "clip": true},
   "encoding": {
    "x": {"field": "year", "type": "quantitative", "scale": {"domain": [1840, 2110], "nice": false, "zero": false}, "axis": {"values": [1850,1900,1950,2000,2050,2100], "format": "d", "title": null}},
    "y": {"field": "v", "type": "quantitative", "scale": {"domain": [-5.4, 138.0], "nice": false, "zero": false}, "axis": {"values": [0,20,40,60,80,100,120], "format": "d", "title": null}},
    "color": {"field": "s", "type": "nominal", "scale": {"domain": ["ESCIMO base run","ESCIMO driven by RCP85","ESCIMO driven by RCP6","ESCIMO driven by RCP45","ESCIMO driven by RCP26"], "range": ["#0000FF","#000000","#000000","#000000","#000000"]}, "legend": {"title": null, "legendY": 25.2}},
    "strokeDash": {"field": "s", "type": "nominal", "scale": {"domain": ["ESCIMO base run","ESCIMO driven by RCP85","ESCIMO driven by RCP6","ESCIMO driven by RCP45","ESCIMO driven by RCP26"], "range": [[1,0],[10,4],[1.5,3.5,6,3.5],[1.5,3],[5,4]]}, "legend": {"title": null, "legendY": 25.2}}
   }},
  {"data": {"name": "gbase"}, "mark": {"type": "line", "strokeWidth": 2.5, "interpolate": "linear", "clip": true},
   "encoding": {
    "x": {"field": "year", "type": "quantitative"},
    "y": {"field": "v", "type": "quantitative"},
    "color": {"field": "s", "type": "nominal"},
    "strokeDash": {"field": "s", "type": "nominal"}
   }}
 ]
},
{
 "width": 408, "height": 362.5,
 "title": {"text": ["ESCIMO response to 1 % yr⁻¹ rise in CO₂ ppm from 1850", "(transient climate response in °C)"], "offset": 0},
 "layer": [
  {"data": {"name": "tcr"}, "mark": {"type": "area", "color": "#0000FF", "opacity": 0.12, "clip": true, "interpolate": "monotone"},
   "encoding": {
    "x": {"field": "year", "type": "quantitative", "scale": {"domain": [1840, 2110], "nice": false, "zero": false}, "axis": {"values": [1850,1900,1950,2000,2050,2100], "format": "d", "title": null}},
    "y": {"field": "lo", "type": "quantitative", "scale": {"domain": [-0.406, 5.409], "nice": false, "zero": false}, "axis": {"values": [0,1,2,3,4,5], "format": "d", "title": null}},
    "y2": {"field": "hi"}
   }},
  {"data": {"name": "tcr"}, "mark": {"type": "line", "color": "#0000FF", "strokeWidth": 2.5, "interpolate": "monotone", "clip": true},
   "encoding": {
    "x": {"field": "year", "type": "quantitative"},
    "y": {"field": "v", "type": "quantitative"}
   }},
  {"data": {"name": "mark1921"}, "mark": {"type": "rule", "color": "#999999", "strokeWidth": 1.5},
   "encoding": {
    "x": {"field": "year", "type": "quantitative"}
   }},
  {"data": {"name": "arrow"}, "mark": {"type": "rule", "color": "#000000", "strokeWidth": 1.6},
   "encoding": {
    "x": {"field": "x1", "type": "quantitative"},
    "x2": {"field": "x2"},
    "y": {"field": "y1", "type": "quantitative"},
    "y2": {"field": "y2"}
   }},
  {"data": {"name": "note"}, "mark": {"type": "text", "align": "left", "baseline": "middle", "fontSize": 13.5, "font": "Liberation Sans", "color": "#1a1a1a"},
   "encoding": {
    "x": {"field": "year", "type": "quantitative"},
    "y": {"field": "v", "type": "quantitative"},
    "text": {"field": "label"}
   }}
 ]
}
]
}
